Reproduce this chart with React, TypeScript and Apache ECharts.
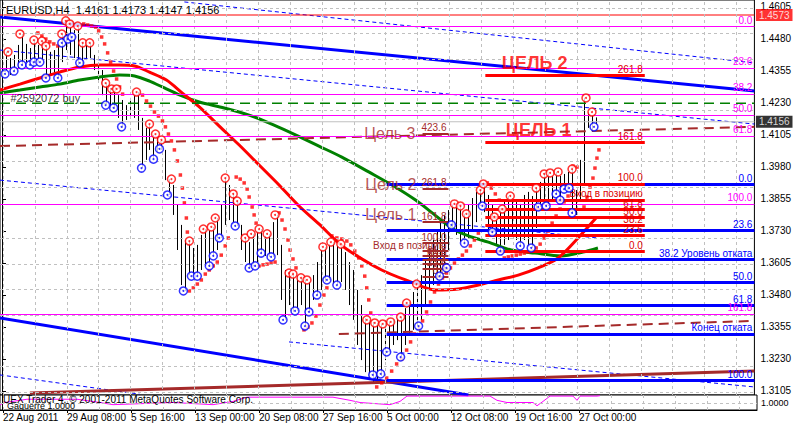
import React, { useEffect, useRef } from "react";
import * as echarts from "echarts";

const FONT = "Liberation Sans";

const headerText = "EURUSD,H4  1.4161 1.4173 1.4147 1.4156";
const footerText = "UEX Trader 4, © 2001-2011 MetaQuotes Software Corp.";
const subWindowText = "Gaquerre 1.0000";

const priceTicks = [1.3105, 1.323, 1.3355, 1.348, 1.3605, 1.373, 1.3855, 1.398, 1.4105, 1.423, 1.4355, 1.448, 1.4605];
const dateLabels = ["22 Aug 2011", "29 Aug 08:00", "5 Sep 16:00", "13 Sep 00:00", "20 Sep 08:00", "27 Sep 16:00", "5 Oct 00:00", "12 Oct 08:00", "19 Oct 16:00", "27 Oct 00:00"];
const dateLabelBars = [0.25, 16.25, 32.25, 48.25, 64.25, 80.25, 96.25, 112.25, 128.25, 144.25];
const gridBars = [0.25, 8.25, 16.25, 24.25, 32.25, 40.25, 48.25, 56.25, 64.25, 72.25, 80.25, 88.25, 96.25, 104.25, 112.25, 120.25, 128.25, 136.25, 144.25, 152.25, 160.25, 168.25, 176.25, 184.25];

// H4 bars (every second bar), highs and lows
const barHigh = [
  1.4413, 1.4429, 1.4405, 1.4417, 1.4456, 1.4499, 1.446, 1.4444, 1.4475, 1.4456,
  1.4471, 1.4452, 1.4429, 1.4436, 1.4456, 1.4499, 1.455, 1.4538, 1.4514, 1.453,
  1.4464, 1.4456, 1.4464, 1.4417, 1.4389, 1.4358, 1.4307, 1.4288, 1.4284, 1.426,
  1.4241, 1.4221, 1.4249, 1.426, 1.4272, 1.4171, 1.4132, 1.4143, 1.4104, 1.4093,
  1.4085, 1.4046, 1.3932, 1.3909, 1.3831, 1.3753, 1.3694, 1.369, 1.3663, 1.3675,
  1.3714, 1.3737, 1.3733, 1.3745, 1.378, 1.3831, 1.3936, 1.3909, 1.3874, 1.3846,
  1.3753, 1.3702, 1.3686, 1.3718, 1.3725, 1.3737, 1.371, 1.3718, 1.3764, 1.3792,
  1.3675, 1.3577, 1.3565, 1.3561, 1.3553, 1.3546, 1.3538, 1.353, 1.3557, 1.3608,
  1.3655, 1.3667, 1.3678, 1.3686, 1.3671, 1.3678, 1.3647, 1.3608, 1.3577, 1.3499,
  1.344, 1.3389, 1.3382, 1.3374, 1.337, 1.3366, 1.3374, 1.3374, 1.3382, 1.3389,
  1.3393, 1.3428, 1.3452, 1.3491, 1.3522, 1.3557, 1.3616, 1.3663, 1.3694, 1.3733,
  1.3764, 1.3792, 1.3811, 1.3835, 1.3827, 1.3827, 1.3796, 1.3831, 1.3858, 1.3882,
  1.3889, 1.3913, 1.387, 1.3831, 1.3784, 1.3815, 1.385, 1.3866, 1.3858, 1.385,
  1.3835, 1.387, 1.3882, 1.3866, 1.3897, 1.3921, 1.3952, 1.3952, 1.3944, 1.396,
  1.3944, 1.3952, 1.396, 1.3971, 1.3889, 1.4007, 1.4249, 1.4194, 1.4182, 1.4173,
];
const barLow = [
  1.4343, 1.4358, 1.4339, 1.435, 1.4366, 1.4374, 1.4389, 1.4374, 1.4386, 1.4389,
  1.4397, 1.4327, 1.4335, 1.4343, 1.4327, 1.4389, 1.4436, 1.4417, 1.4405, 1.4378,
  1.4382, 1.4397, 1.4405, 1.4358, 1.4319, 1.426, 1.4225, 1.421, 1.4206, 1.4171,
  1.4132, 1.4163, 1.4182, 1.4171, 1.4124, 1.3975, 1.4007, 1.4046, 1.401, 1.4038,
  1.4046, 1.3928, 1.387, 1.3792, 1.3655, 1.3518, 1.3495, 1.3557, 1.3553, 1.3553,
  1.3577, 1.3593, 1.3589, 1.3632, 1.3655, 1.3702, 1.3753, 1.3772, 1.3764, 1.3749,
  1.3655, 1.3608, 1.3585, 1.3593, 1.3608, 1.3643, 1.3632, 1.3628, 1.3628, 1.3635,
  1.346, 1.3382, 1.344, 1.3413, 1.3417, 1.344, 1.3358, 1.3413, 1.346, 1.3479,
  1.3499, 1.353, 1.3538, 1.3522, 1.3518, 1.353, 1.3499, 1.344, 1.3382, 1.3284,
  1.3225, 1.3178, 1.3147, 1.3132, 1.3143, 1.3163, 1.3225, 1.3257, 1.3284, 1.3303,
  1.3241, 1.3284, 1.3323, 1.3343, 1.3358, 1.3382, 1.344, 1.3499, 1.3518, 1.3538,
  1.3553, 1.3585, 1.3655, 1.3741, 1.3714, 1.3686, 1.3682, 1.3702, 1.3733, 1.3764,
  1.3827, 1.3803, 1.3733, 1.3721, 1.3675, 1.3651, 1.3675, 1.3694, 1.371, 1.3694,
  1.3671, 1.3694, 1.3675, 1.3663, 1.3741, 1.3823, 1.3835, 1.3827, 1.385, 1.3874,
  1.385, 1.3893, 1.3897, 1.3796, 1.3792, 1.385, 1.3909, 1.4132, 1.4124, 1.4147,
];

// Fractals [bar, price]
const upFractals = [
  [1.5, 1.4429], [4.5, 1.4499], [8, 1.4475], [10, 1.4471], [11, 1.4452], [15, 1.4499], [16, 1.455], [17, 1.4538], [19, 1.453],
  [20.25, 1.4464], [22, 1.4464], [26, 1.4307], [27.5, 1.4284], [28.75, 1.4284], [33.75, 1.4272], [37, 1.4147], [38.5, 1.4108],
  [40, 1.4085], [42.5, 1.3932], [47, 1.369], [50.5, 1.3737], [52.5, 1.3745], [53.5, 1.378], [56, 1.3936], [58, 1.3874], [59, 1.3846],
  [61, 1.3702], [62.5, 1.3718], [64.5, 1.3737], [66.5, 1.3718], [68.5, 1.3792], [72, 1.3565], [73, 1.3561], [75, 1.3546], [76.5, 1.3538],
  [80.5, 1.3667], [82.5, 1.3686], [85, 1.3678], [91.5, 1.3382], [93.5, 1.337], [95.5, 1.3366], [97.5, 1.3374], [100, 1.3393],
  [101.5, 1.3448], [104, 1.3522], [113.5, 1.3835], [115, 1.3827], [116.5, 1.3796], [120, 1.3889], [120.75, 1.3913], [123.5, 1.3784],
  [125.5, 1.3815], [127.5, 1.3866], [134, 1.3897], [136, 1.3952], [137.5, 1.3956], [139.5, 1.396], [143, 1.3971], [146.5, 1.4249], [148, 1.4194],
];
const downFractals = [
  [0.75, 1.4343], [3, 1.4354], [5, 1.4378], [7, 1.4378], [8, 1.4389], [9.5, 1.4389], [11, 1.4327], [14, 1.4327], [15, 1.4464],
  [16.5, 1.4479], [17.5, 1.4487], [19.5, 1.4386], [26, 1.4221], [28, 1.421], [30, 1.4136], [35, 1.3975], [38, 1.401], [39.5, 1.405],
  [41.5, 1.387], [45.5, 1.3495], [47.5, 1.3553], [49, 1.3553], [52, 1.3593], [53, 1.3632], [54.5, 1.3702], [58.5, 1.3749], [62, 1.3585],
  [63.5, 1.3593], [65, 1.3643], [67.5, 1.3628], [70.5, 1.3382], [73.5, 1.3417], [76, 1.3358], [77, 1.3413], [79, 1.3479], [81.5, 1.3538],
  [84, 1.3518], [93, 1.3167], [95, 1.3171], [96.5, 1.3257], [100, 1.3237], [104.5, 1.3358], [109.75, 1.3553], [111.5, 1.3585],
  [112.75, 1.3753], [116, 1.3682], [120.5, 1.3827], [123, 1.3725], [125, 1.3651], [130, 1.3671], [132.75, 1.3663], [134.5, 1.3823],
  [136.5, 1.3827], [139, 1.3874], [140, 1.385], [141, 1.3893], [142.25, 1.3897], [143, 1.38], [148.5, 1.4136],
];

// Parabolic SAR dots [bar, price]
const sarDots = [
  [9, 1.4503], [10, 1.4491], [11, 1.4479], [12, 1.4468], [13, 1.446], [14, 1.4452],
  [20.5, 1.4538], [21.5, 1.4534], [22.5, 1.453], [23.5, 1.4526], [24.25, 1.4511], [25, 1.4487], [25.75, 1.446], [26.5, 1.4425],
  [27.25, 1.4389], [28, 1.4354], [28.75, 1.4323], [29.5, 1.4292], [30.25, 1.4264],
  [35.25, 1.426], [36.25, 1.4237], [37.25, 1.4217], [38.25, 1.4194], [39.25, 1.4178], [40.25, 1.4159], [41, 1.4136], [41.75, 1.4108],
  [42.5, 1.4081], [43.25, 1.4046], [44, 1.4003], [44.75, 1.3948], [45.25, 1.3897], [45.75, 1.3839], [46.25, 1.378], [46.5, 1.3725],
  [47, 1.3495], [48, 1.3507], [49, 1.3522], [50, 1.3538], [51, 1.3561], [52, 1.3577], [53, 1.3593], [54, 1.3608], [55, 1.3635], [56, 1.3671], [56.75, 1.3702],
  [58.75, 1.394], [59.75, 1.3932], [60.75, 1.3917], [61.5, 1.3893], [62, 1.3862], [62.75, 1.3823], [63.25, 1.3792], [63.75, 1.376],
  [64.5, 1.3593], [65.5, 1.3597], [66.5, 1.36], [67.5, 1.3604], [68.5, 1.3608],
  [69.5, 1.38], [70.25, 1.3772], [71, 1.3737], [71.75, 1.3694], [72.25, 1.3655], [73, 1.362], [73.75, 1.3585],
  [75.75, 1.3343], [76.75, 1.3354], [77.75, 1.337], [78.75, 1.3397], [79.75, 1.344], [80.75, 1.3479], [81.5, 1.3507],
  [82.75, 1.371], [84, 1.3702], [85.25, 1.3698], [86.5, 1.369], [87.5, 1.3675], [88.5, 1.3651], [89.5, 1.3624], [90.25, 1.3593],
  [91, 1.3553], [91.5, 1.3507], [92, 1.346], [92.5, 1.3409],
  [94, 1.312], [95.25, 1.3136], [96.5, 1.3155], [97.75, 1.3182], [99, 1.321], [100.25, 1.3229], [101.5, 1.3264], [102.5, 1.3296],
  [103.5, 1.3327], [104.5, 1.335], [105.5, 1.3378], [106.5, 1.3413], [107.5, 1.3452], [108.5, 1.3491], [109.5, 1.3522], [110.5, 1.3546],
  [111.5, 1.3565], [112.5, 1.3585], [113.5, 1.3604], [114.5, 1.362], [115.5, 1.3635], [116.5, 1.3651], [117.5, 1.3671], [118.5, 1.3694], [119.5, 1.3721],
  [121.75, 1.3917], [122.75, 1.3897], [123.75, 1.3874], [124.75, 1.385],
  [126, 1.3624], [127, 1.3628], [128, 1.3632], [129, 1.3635], [130, 1.3639], [131, 1.3643], [132, 1.3647], [133, 1.3651], [134, 1.3663],
  [135, 1.3678], [136, 1.3702], [137, 1.3729], [138, 1.376], [139, 1.3788], [140, 1.3815], [141, 1.3843], [142, 1.3866],
  [143.25, 1.3983], [144.25, 1.3979],
  [146, 1.3823], [146.75, 1.3862], [147.5, 1.3901], [148.25, 1.3936], [148.75, 1.3975], [149.25, 1.4014], [149.75, 1.4046],
];

// Moving averages [bar, price]
const maRed = [
  [-0.5, 1.428], [4.5, 1.4303], [9.5, 1.4327], [14.5, 1.435], [19.5, 1.437], [24.5, 1.4378], [29.5, 1.4378], [33.25, 1.4374],
  [37, 1.435], [41.25, 1.4319], [45.25, 1.4268], [49.5, 1.4214], [54.5, 1.4139], [59.5, 1.4065], [64.5, 1.3987], [69.5, 1.3909],
  [74.5, 1.3827], [79.5, 1.3757], [84.5, 1.3682], [88.75, 1.3635], [95.25, 1.3577], [101.25, 1.3538], [108.75, 1.3499],
  [114.5, 1.3503], [119.5, 1.3518], [124.5, 1.3538], [129.5, 1.3557], [134.5, 1.3585], [139.5, 1.3624], [144.5, 1.3702], [149, 1.378],
];
const maGreen = [
  [-0.5, 1.4268], [4.5, 1.428], [9.5, 1.4292], [14.5, 1.4303], [19.5, 1.4319], [24.5, 1.4331], [29.5, 1.4339], [33.25, 1.4335],
  [37, 1.4315], [40.75, 1.4288], [44.5, 1.4261], [49.5, 1.4233], [55.75, 1.421], [62, 1.4182], [68.25, 1.4143], [73.75, 1.4104],
  [79.5, 1.4061], [85.25, 1.4018], [92, 1.396], [98.25, 1.3905], [103.75, 1.385], [108.25, 1.3796], [112.75, 1.3741], [117, 1.371],
  [122, 1.3686], [127.75, 1.3655], [133.75, 1.3643], [140.25, 1.3632], [145.75, 1.3647], [149.5, 1.3663],
];

// Trend lines [bar, price] end points
const blueTrendTop = [[-0.5, 1.4565], [188.75, 1.4276]];
const blueTrendBottom = [[-0.5, 1.3389], [117, 1.3089]];
const blueDash1 = [[45.75, 1.4624], [188.75, 1.4386]];
const blueDash2 = [[-0.5, 1.4436], [188.75, 1.4147]];
const blueDash3 = [[-0.5, 1.3928], [149.5, 1.3702]];
const blueDash4 = [[72, 1.3296], [188.75, 1.312]];
const blueDash5 = [[-0.5, 1.3167], [34.5, 1.3092]];
const maroonDashUpper = [[-0.5, 1.4061], [188.75, 1.4136]];
const maroonDashLower = [[84.5, 1.3327], [188.75, 1.3378]];
const maroonBottom = [[7, 1.3096], [188.75, 1.3182]];
const orderPrice = 1.4228;
const orderLabel = "#2592072 buy";
const bidPrice = 1.4156;
const alertPrice = 1.4573;

// Fibonacci tools
const magentaFib = { p0: 1.453, p100: 1.3835, from: -0.5, to: 188.75 };
const magentaRatios = [0, 23.6, 38.2, 50, 61.8, 100, 161.8];
const magentaLabels = ["0.0", "23.6", "38.2", "50.0", "61.8", "100.0", "161.8"];

const blueFib = { p0: 1.3912, p100: 1.3147, from: 96.5, to: 188.75 };
const blueRatios = [0, 23.6, 38.2, 50, 61.8, 76.4, 100];
const blueLabels = ["0.0", "23.6", "38.2 Уровень отката", "50.0", "61.8", "Конец отката", "100.0"];

const redFib = { p0: 1.3651, p100: 1.3913, from: 121.25, to: 161.25 };
const redRatios = [0, 23.6, 38.2, 50, 61.8, 76.4, 100, 161.8, 261.8];
const redLabels = ["0.0", "23.6", "38.2", "50.0", "61.8", "Вход в позицию", "100.0", "161.8", "261.8"];

const brownFib = { p0: 1.355, p100: 1.3682, from: 105.5, to: 112 };
const brownRatios = [0, 23.6, 38.2, 50, 61.8, 76.4, 100, 161.8, 261.8, 423.6];
const brownLabels = ["0.0", "23.6", "38.2", "50.0", "61.8", "Вход в позицию", "100.0", "161.8", "261.8", "423.6"];

// Text objects [bar, price]
const noteTexts = ["ЦЕЛЬ 2", "ЦЕЛЬ 1", "Цель 3", "Цель 2", "Цель 1", orderLabel];
const notePos = [[125.25, 1.4386], [126.25, 1.4122], [90.75, 1.4112], [91, 1.3909], [91, 1.3792], [2, 1.4249]];

// Sub window (balance) [bar, value]
const balance = [
  [-0.5, 0.99989], [0.75, 1.00005], [4.5, 1.00021], [6.25, 1.00029], [18.75, 1.00029], [24.5, 1.00005], [27.75, 0.99989],
  [42.75, 1.00005], [52.75, 0.99989], [57.75, 1.00013], [61.25, 1.00044], [82.75, 1.00044], [87, 1.00021], [89.5, 1.00005],
  [97, 0.99989], [99.5, 1.00013], [101.25, 1.00052], [122, 1.00052], [123.75, 1.00021], [126.25, 1.00005], [132.75, 1.00005],
  [133.75, 0.99981], [135.25, 1.00013], [137, 1.00052], [142.75, 1.00052], [143.75, 1.00021], [144.5, 1.00052], [148.75, 1.00052], [149.5, 1.00055],
];
const subLabels = [1.0005, 1.0, 0.9996];
const subGrid = [0.99965, 0.99985, 1.00005, 1.00025, 1.00045];

const K_MIN = -0.5;
const K_MAX = 188.75;
const P_MIN = 1.30886;
const P_MAX = 1.46316;

const GRID_LINE = { color: "#c0c0c0", width: 1, type: [3, 3] };

function gridSeries(xi: number, xs: number[], ys: number[]) {
  return {
    type: "line",
    xAxisIndex: xi,
    yAxisIndex: xi,
    data: [],
    symbol: "none",
    silent: true,
    z: 1,
    markLine: {
      symbol: "none",
      silent: true,
      animation: false,
      emphasis: { disabled: true },
      label: { show: false },
      lineStyle: GRID_LINE,
      data: [...xs.map((v) => ({ xAxis: v })), ...ys.map((v) => ({ yAxis: v }))],
    },
  };
}

function trend(data: number[][], color: string, width: number, type: any) {
  return {
    type: "line",
    xAxisIndex: 0,
    yAxisIndex: 0,
    data,
    symbol: "none",
    silent: true,
    clip: true,
    lineStyle: { color, width, type },
  };
}

function fib(def: any, ratios: number[], labels: string[], color: string, width: number, labelColor: string) {
  return {
    type: "line",
    xAxisIndex: 0,
    yAxisIndex: 0,
    data: [],
    symbol: "none",
    silent: true,
    markLine: {
      symbol: "none",
      silent: true,
      animation: false,
      lineStyle: { color, width, type: "solid" },
      label: {
        show: true,
        position: "insideEndTop",
        formatter: "{b}",
        color: labelColor,
        fontSize: 10,
        fontFamily: FONT,
        distance: [2, 1],
      },
      emphasis: { disabled: true },
      data: ratios.map((r, i) => {
        const price = def.p0 + ((def.p100 - def.p0) * r) / 100;
        return [
          { name: labels[i], coord: [def.from, price] },
          { coord: [def.to, price] },
        ];
      }),
    },
  };
}

function fractalSeries(points: number[][], color: string) {
  return [
    {
      type: "scatter",
      xAxisIndex: 0,
      yAxisIndex: 0,
      data: points,
      symbol: "circle",
      symbolSize: 8,
      silent: true,
      itemStyle: { color: "#ffffff", borderColor: color, borderWidth: 1.5 },
      z: 5,
    },
    {
      type: "scatter",
      xAxisIndex: 0,
      yAxisIndex: 0,
      data: points,
      symbol: "circle",
      symbolSize: 2,
      silent: true,
      itemStyle: { color },
      z: 6,
    },
  ];
}

const noteStyles = [
  { color: "#ff0000", fontSize: 18, fontWeight: "bold" },
  { color: "#ff0000", fontSize: 18, fontWeight: "bold" },
  { color: "#a52a2a", fontSize: 16, fontWeight: "normal" },
  { color: "#a52a2a", fontSize: 16, fontWeight: "normal" },
  { color: "#a52a2a", fontSize: 16, fontWeight: "normal" },
  { color: "#000000", fontSize: 11, fontWeight: "normal" },
];

function priceBox(price: number, bg: string) {
  return {
    value: [K_MAX, price],
    label: {
      show: true,
      position: "right",
      distance: 1,
      formatter: price.toFixed(4),
      backgroundColor: bg,
      color: "#fff",
      padding: [1, 3, 0, 3],
      lineHeight: 11,
      fontSize: 10,
      fontFamily: FONT,
    },
  };
}

function buildOption() {
  return {
    animation: false,
    backgroundColor: "#ffffff",
    textStyle: { fontFamily: FONT },
    title: {
      text: headerText,
      left: 6,
      top: 4,
      padding: 0,
      textStyle: { fontSize: 11, fontWeight: "normal", color: "#000", fontFamily: FONT },
    },
    grid: [
      { left: 0, top: 0, width: 757, height: 395, show: true, borderColor: "#000", borderWidth: 1, backgroundColor: "#fff" },
      { left: 0, top: 395, width: 757, height: 15, show: true, borderColor: "#000", borderWidth: 1, backgroundColor: "#fff" },
    ],
    xAxis: [
      {
        type: "value",
        gridIndex: 0,
        min: K_MIN,
        max: K_MAX,
        axisLine: { show: false },
        axisTick: { show: false },
        axisLabel: { show: false },
        splitLine: { show: false },
      },
      {
        type: "value",
        gridIndex: 1,
        min: K_MIN,
        max: K_MAX,
        axisLine: { show: true, lineStyle: { color: "#000" } },
        axisTick: { show: true, length: 3, customValues: dateLabelBars, lineStyle: { color: "#000" } },
        axisLabel: {
          show: true,
          customValues: dateLabelBars,
          align: "left",
          margin: 2,
          fontSize: 10,
          color: "#000",
          fontFamily: FONT,
          formatter: (v: number) => {
            const i = dateLabelBars.findIndex((b) => Math.abs(b - v) < 0.01);
            return i >= 0 ? dateLabels[i] : "";
          },
        },
        splitLine: { show: false },
      },
    ],
    yAxis: [
      {
        type: "value",
        gridIndex: 0,
        position: "right",
        min: P_MIN,
        max: P_MAX,
        axisLine: { show: true, lineStyle: { color: "#000" } },
        axisTick: { show: true, length: 4, customValues: priceTicks, lineStyle: { color: "#000" } },
        axisLabel: {
          show: true,
          customValues: priceTicks,
          margin: 6,
          fontSize: 10,
          lineHeight: 7,
          color: "#000",
          fontFamily: FONT,
          formatter: (v: number) => v.toFixed(4),
        },
        splitLine: { show: false },
      },
      {
        type: "value",
        gridIndex: 1,
        position: "right",
        min: 0.9995,
        max: 1.0006,
        axisLine: { show: true, lineStyle: { color: "#000" } },
        axisTick: { show: false },
        axisLabel: {
          show: true,
          customValues: subLabels,
          margin: 4,
          fontSize: 9,
          lineHeight: 5,
          color: "#000",
          fontFamily: FONT,
          formatter: (v: number) => v.toFixed(4),
        },
        splitLine: { show: false },
      },
    ],
    graphic: [
      { type: "text", left: 3, top: 394, z: 20, style: { text: footerText, font: `10px '${FONT}'`, fill: "#000" } },
      { type: "text", left: 7, top: 401, z: 20, style: { text: subWindowText, font: `9px '${FONT}'`, fill: "#000" } },
    ],
    series: [
      gridSeries(0, gridBars, priceTicks),
      gridSeries(1, gridBars, subGrid),
      // price bars
      {
        type: "custom",
        xAxisIndex: 0,
        yAxisIndex: 0,
        silent: true,
        clip: true,
        data: barHigh.map((h, i) => [i, h, barLow[i]]),
        encode: { x: 0, y: [1, 2] },
        renderItem: (params: any, api: any) => {
          const hi = api.coord([api.value(0), api.value(1)]);
          const lo = api.coord([api.value(0), api.value(2)]);
          const x = Math.round(hi[0]) + 0.5;
          return {
            type: "line",
            shape: { x1: x, y1: hi[1], x2: x, y2: lo[1] },
            style: { stroke: "#000", lineWidth: 1 },
          };
        },
      },
      // moving averages
      {
        type: "line", xAxisIndex: 0, yAxisIndex: 0, data: maGreen, symbol: "none", smooth: 0.3, silent: true,
        lineStyle: { color: "#008000", width: 3 },
      },
      {
        type: "line", xAxisIndex: 0, yAxisIndex: 0, data: maRed, symbol: "none", smooth: 0.3, silent: true,
        lineStyle: { color: "#ff0000", width: 3 },
      },
      // trend lines
      trend(blueTrendTop, "#0000ff", 3, "solid"),
      trend(blueTrendBottom, "#0000ff", 3, "solid"),
      trend(blueDash1, "#0000ff", 1, [4, 3]),
      trend(blueDash2, "#0000ff", 1, [4, 3]),
      trend(blueDash3, "#0000ff", 1, [4, 3]),
      trend(blueDash4, "#0000ff", 1, [4, 3]),
      trend(blueDash5, "#0000ff", 1, [4, 3]),
      trend(maroonDashUpper, "#a52a2a", 2, [10, 6]),
      trend(maroonDashLower, "#a52a2a", 2, [10, 6]),
      trend(maroonBottom, "#a52a2a", 3, "solid"),
      trend([[K_MIN, orderPrice], [K_MAX, orderPrice]], "#008000", 1.5, [10, 6]),
      trend([[K_MIN, bidPrice], [K_MAX, bidPrice]], "#c0c0c0", 1, "solid"),
      trend([[K_MIN, alertPrice], [K_MAX, alertPrice]], "#ff0000", 1, "solid"),
      // fibonacci tools
      fib(magentaFib, magentaRatios, magentaLabels, "#ff00ff", 1, "#ff00ff"),
      fib(blueFib, blueRatios, blueLabels, "#0000ff", 3, "#0000ff"),
      fib(redFib, redRatios, redLabels, "#ff0000", 3, "#dd0000"),
      fib(brownFib, brownRatios, brownLabels, "#a52a2a", 2, "#a52a2a"),
      // parabolic SAR
      {
        type: "scatter", xAxisIndex: 0, yAxisIndex: 0, data: sarDots, symbol: "rect", symbolSize: 3.5, silent: true,
        itemStyle: { color: "#ff0000" }, z: 4,
      },
      ...fractalSeries(upFractals, "#ff0000"),
      ...fractalSeries(downFractals, "#0000ff"),
      // text objects
      {
        type: "scatter", xAxisIndex: 0, yAxisIndex: 0, symbolSize: 1, silent: true, z: 8,
        itemStyle: { color: "rgba(0,0,0,0)" },
        data: noteTexts.map((t, i) => ({
          value: notePos[i],
          label: {
            show: true,
            position: "right",
            distance: 0,
            formatter: t,
            fontFamily: FONT,
            ...noteStyles[i],
          },
        })),
      },
      // price boxes on the axis
      {
        type: "scatter", xAxisIndex: 0, yAxisIndex: 0, symbolSize: 1, silent: true, clip: false, z: 9,
        itemStyle: { color: "rgba(0,0,0,0)" },
        data: [priceBox(bidPrice, "#000000"), priceBox(alertPrice, "#ff0000")],
      },
      // sub window
      {
        type: "line", xAxisIndex: 1, yAxisIndex: 1, data: balance, symbol: "none", silent: true,
        lineStyle: { color: "#ff00ff", width: 1 },
      },
    ],
  };
}

export default function App() {
  const ref = useRef<HTMLDivElement>(null);
  useEffect(() => {
    if (!ref.current) return;
    const chart = echarts.init(ref.current, undefined, { renderer: "svg" });
    chart.setOption(buildOption() as any);
    return () => chart.dispose();
  }, []);
  return (
    <div
      ref={ref}
      style={{ position: "fixed", left: 0, top: 0, width: 794, height: 424, background: "#fff" }}
    />
  );
}
